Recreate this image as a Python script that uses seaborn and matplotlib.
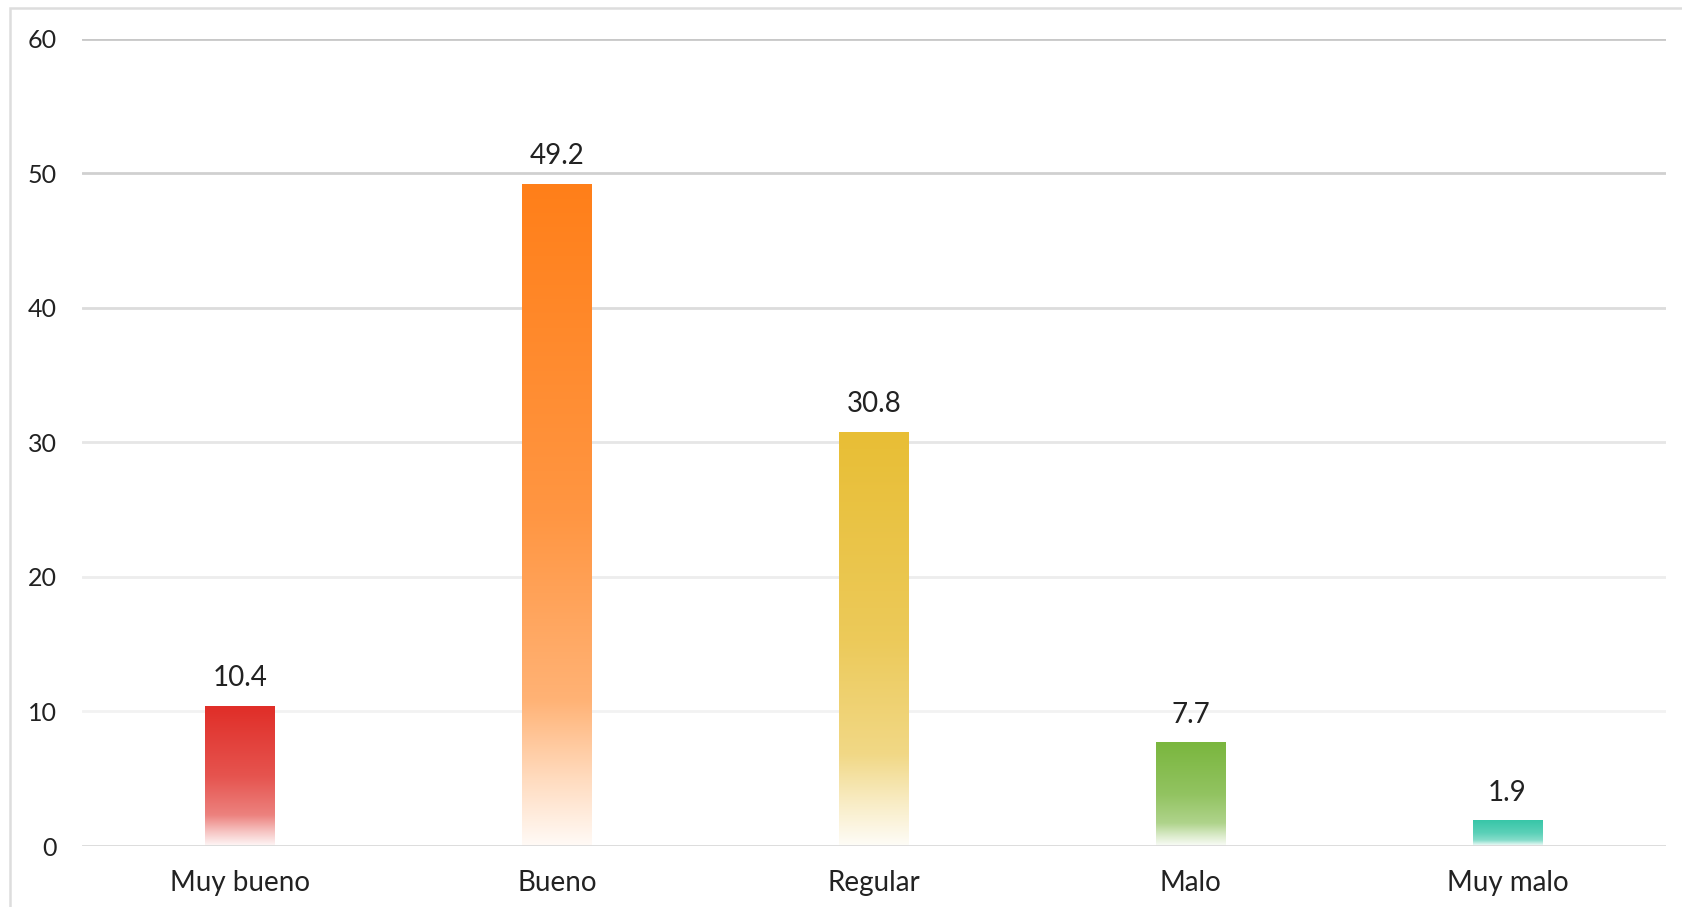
import numpy as np
import pandas as pd
import matplotlib
matplotlib.use("Agg")
import matplotlib.pyplot as plt
import seaborn as sns
from matplotlib.colors import to_rgb
from matplotlib.patches import Rectangle

categories = ["Muy bueno", "Bueno", "Regular", "Malo", "Muy malo"]
values = [10.4, 49.2, 30.8, 7.7, 1.9]
bar_colors = ["#E02E28", "#FF7F19", "#E8BE35", "#7AB63E", "#37C6A8"]
y_ticks = [0, 10, 20, 30, 40, 50, 60]
grid_colors = ["#d9d9d9", "#f2f2f2", "#ededed", "#e6e6e6", "#dcdcdc", "#d0d0d0", "#c8c8c8"]

sns.set_theme(style="white")
plt.rcParams["font.family"] = ["Lato", "DejaVu Sans"]

W, H = 1682, 907
fig = plt.figure(figsize=(W / 100, H / 100), dpi=100)
ax = fig.add_axes([81.5 / W, 1 - 846 / H, (1666 - 81.5) / W, (846 - 38.6) / H])

df = pd.DataFrame({"cat": categories, "val": values})
sns.barplot(data=df, x="cat", y="val", ax=ax, width=0.22, color="white",
            edgecolor="none", linewidth=0, zorder=2)

ax.set_xlim(-0.5, len(categories) - 0.5)
ax.set_ylim(0, 60)

# gradient fills
stops = np.array([0.0, 0.5, 0.78, 0.9, 1.0])
alphas = np.array([1.0, 0.82, 0.6, 0.28, 0.04])
for patch, col in zip(ax.patches, bar_colors):
    x0 = patch.get_x(); w = patch.get_width(); h = patch.get_height()
    n = 256
    t = np.linspace(0, 1, n)  # 0 top -> 1 bottom
    a = np.interp(t, stops, alphas)
    rgb = np.array(to_rgb(col))
    img = np.ones((n, 1, 3)) * (1 - a[:, None, None]) + rgb[None, None, :] * a[:, None, None]
    im = ax.imshow(img, extent=[x0, x0 + w, 0, h], aspect="auto", origin="upper",
                   zorder=2.5, interpolation="bilinear")
    im.set_clip_path(patch)
    patch.set_facecolor("none")
ax.set_xlim(-0.5, len(categories) - 0.5)
ax.set_ylim(0, 60)

# grid lines
for yv, gc in zip(y_ticks, grid_colors):
    ax.axhline(yv, color=gc, lw=2, zorder=1 if yv > 0 else 4)

# value labels
for i, v in enumerate(values):
    ax.annotate(f"{v}", (i, v), xytext=(0, 20), textcoords="offset points",
                ha="center", va="center", fontsize=20, color="#222222", zorder=5)

ax.set_yticks(y_ticks)
ax.set_yticklabels([str(t) for t in y_ticks], fontsize=18, color="#222222")
ax.set_xticks(range(len(categories)))
ax.set_xticklabels(categories, fontsize=20, color="#222222")
ax.tick_params(axis="y", length=0, pad=18)
ax.tick_params(axis="x", length=0, pad=17)
ax.set_xlabel("")
ax.set_ylabel("")
for s in ax.spines.values():
    s.set_visible(False)
ax.grid(False)

# figure border
fig.patches.append(Rectangle((10 / W, -0.05), 1.1, 1 - 8 / H + 0.05, transform=fig.transFigure,
                             fill=False, edgecolor="#dddddd", lw=1.8, zorder=0))

fig.savefig("out.png", dpi=100, facecolor="white")
